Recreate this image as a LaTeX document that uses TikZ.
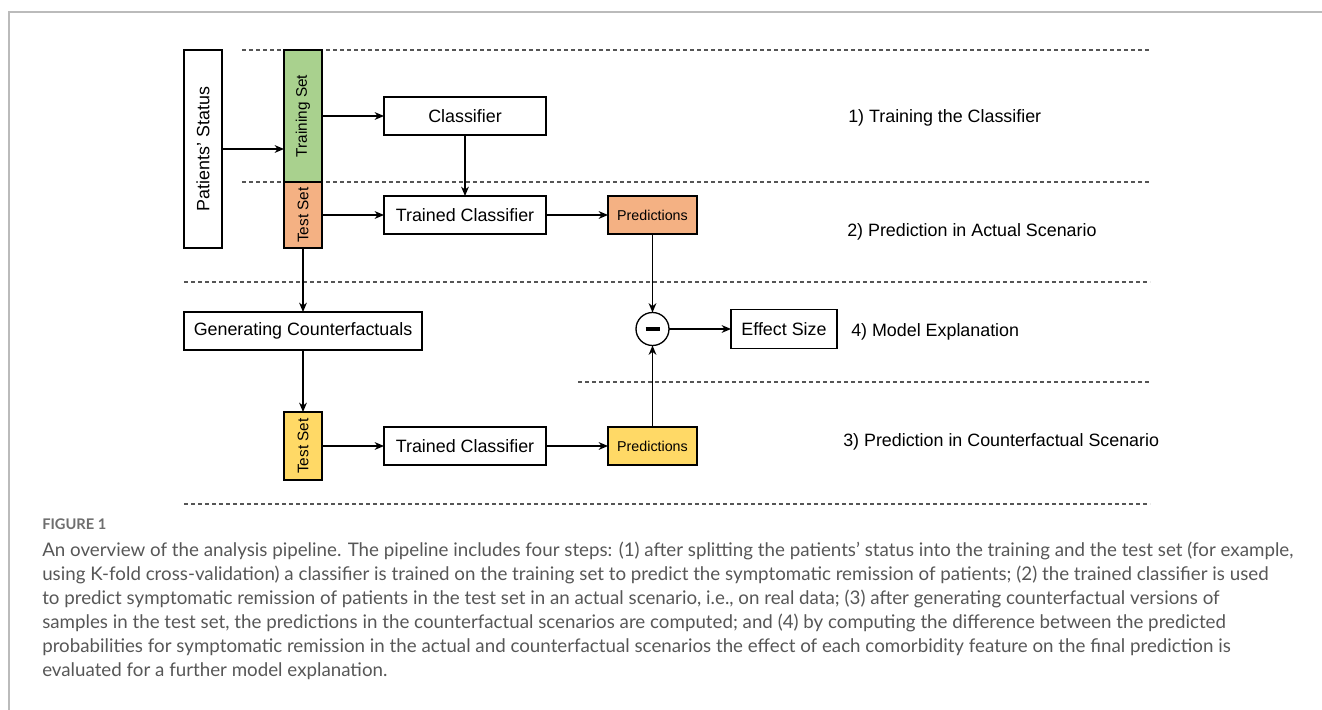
\documentclass[tikz,border=0pt]{standalone}
\usepackage{fontspec}
\setmainfont{Liberation Sans}
\newfontfamily\capfont{Lato}
\usetikzlibrary{arrows.meta}
\definecolor{trgreen}{HTML}{A9D18E}
\definecolor{tsorange}{HTML}{F4B183}
\definecolor{tsyellow}{HTML}{FFD966}
\definecolor{dashgray}{HTML}{555555}
\definecolor{framegray}{HTML}{BBBBBB}
\definecolor{capgray}{HTML}{575757}
\definecolor{figgray}{HTML}{6E6E6E}
\newlength\capw
\tikzset{
  box/.style={draw=black, line width=1pt, inner sep=0pt, outer sep=0pt, align=center,
    font=\fontsize{13.4}{15}\selectfont},
  vbox/.style={box, font=\fontsize{11.5}{13}\selectfont},
  predbox/.style={box, minimum width=66.75pt, minimum height=28.5pt, font=\fontsize{10.7}{12}\selectfont},
  clfbox/.style={box, minimum width=121.5pt, minimum height=28.5pt},
  arr/.style={-{Stealth[length=7pt,width=5.8pt,inset=2.2pt]}, line width=1pt},
  sep/.style={draw=dashgray, dash pattern=on 3pt off 2.25pt, line width=0.8pt},
  lab/.style={anchor=west, inner sep=0pt, font=\fontsize{13.4}{15}\selectfont},
}
\begin{document}
\settowidth\capw{\capfont\fontsize{12}{14}\selectfont An overview of the analysis pipeline. The pipeline includes four steps: (1) after splitting the patients’ status into the training and the test set (for example,}%
\pgfmathsetmacro\capsz{12*938.25/\capw}%
\begin{tikzpicture}[x=0.75pt,y=-0.75pt]
\useasboundingbox (0,0) rectangle (1322,710);
% frame
\draw[framegray, line width=1.2pt] (9,710) -- (9,12) -- (1322,12);
% dashed separators
\draw[sep] (242,50) -- (1150,50);
\draw[sep] (242,182) -- (1150,182);
\draw[sep] (184,282) -- (1150,282);
\draw[sep] (578,382) -- (1150,382);
\draw[sep] (184,504) -- (1150,504);
% nodes
\node[box, minimum width=28.5pt, minimum height=148.5pt] (pat) at (203,149) {\rotatebox{90}{Patients’ Status}};
\node[vbox, fill=trgreen, minimum width=28.5pt, minimum height=99pt] (train) at (303,116) {\rotatebox{90}{Training Set}};
\node[vbox, fill=tsorange, minimum width=28.5pt, minimum height=49.5pt] (testa) at (303,215) {\rotatebox{90}{Test Set}};
\node[clfbox] (clf) at (465,116) {Classifier};
\node[clfbox] (tca) at (465,215) {Trained Classifier};
\node[predbox, fill=tsorange] (preda) at (652.5,215) {Predictions};
\node[box, circle, minimum size=24.75pt] (minus) at (652.5,329) {\rule[-1.3pt]{10.5pt}{2.6pt}};
\node[box, minimum width=79.5pt, minimum height=29.25pt] (eff) at (784,329) {Effect Size};
\node[box, minimum width=178.5pt, minimum height=28.5pt] (gen) at (303,331) {Generating Counterfactuals};
\node[vbox, fill=tsyellow, minimum width=28.5pt, minimum height=51pt] (testb) at (303,446) {\rotatebox{90}{Test Set}};
\node[clfbox] (tcb) at (465,446) {Trained Classifier};
\node[predbox, fill=tsyellow] (predb) at (652.5,446) {Predictions};
% right labels
\node[lab] (l1) at (848,118) {1) Training the Classifier};
\node[lab] (l2) at (847,232) {2) Prediction in Actual Scenario};
\node[lab] (l4) at (851,332) {4) Model Explanation};
\node[lab] (l3) at (843,442) {3) Prediction in Counterfactual Scenario};
% connectors
\draw[arr] (pat.east) -- (pat.east -| train.west);
\draw[arr] (train.east) -- (clf.west);
\draw[arr] (clf.south) -- (tca.north);
\draw[arr] (testa.east) -- (tca.west);
\draw[arr] (tca.east) -- (preda.west);
\draw[arr] (preda.south) -- (minus.north);
\draw[arr] (minus.east) -- (eff.west);
\draw[arr] (testa.south) -- (gen.north);
\draw[arr] (gen.south) -- (testb.north);
\draw[arr] (testb.east) -- (tcb.west);
\draw[arr] (tcb.east) -- (predb.west);
\draw[arr] (predb.north) -- (minus.south);
% caption
\tikzset{captxt/.style={anchor=base west, inner sep=0pt, text=capgray, font=\capfont\fontsize{\capsz}{\capsz}\selectfont}}
\node[anchor=base west, inner sep=0pt, text=figgray, font=\capfont\bfseries\fontsize{11}{13}\selectfont] (fig) at (42,529) {FIGURE 1};
\node[captxt] (c1) at (42,556) {An overview of the analysis pipeline. The pipeline includes four steps: (1) after splitting the patients’ status into the training and the test set (for example,};
\node[captxt] (c2) at (42,580) {using K-fold cross-validation) a classifier is trained on the training set to predict the symptomatic remission of patients; (2) the trained classifier is used};
\node[captxt] (c3) at (42,604) {to predict symptomatic remission of patients in the test set in an actual scenario, i.e., on real data; (3) after generating counterfactual versions of};
\node[captxt] (c4) at (42,628.5) {samples in the test set, the predictions in the counterfactual scenarios are computed; and (4) by computing the difference between the predicted};
\node[captxt] (c5) at (42,652.5) {probabilities for symptomatic remission in the actual and counterfactual scenarios the effect of each comorbidity feature on the final prediction is};
\node[captxt] (c6) at (42,676.5) {evaluated for a further model explanation.};
\end{tikzpicture}
\end{document}
